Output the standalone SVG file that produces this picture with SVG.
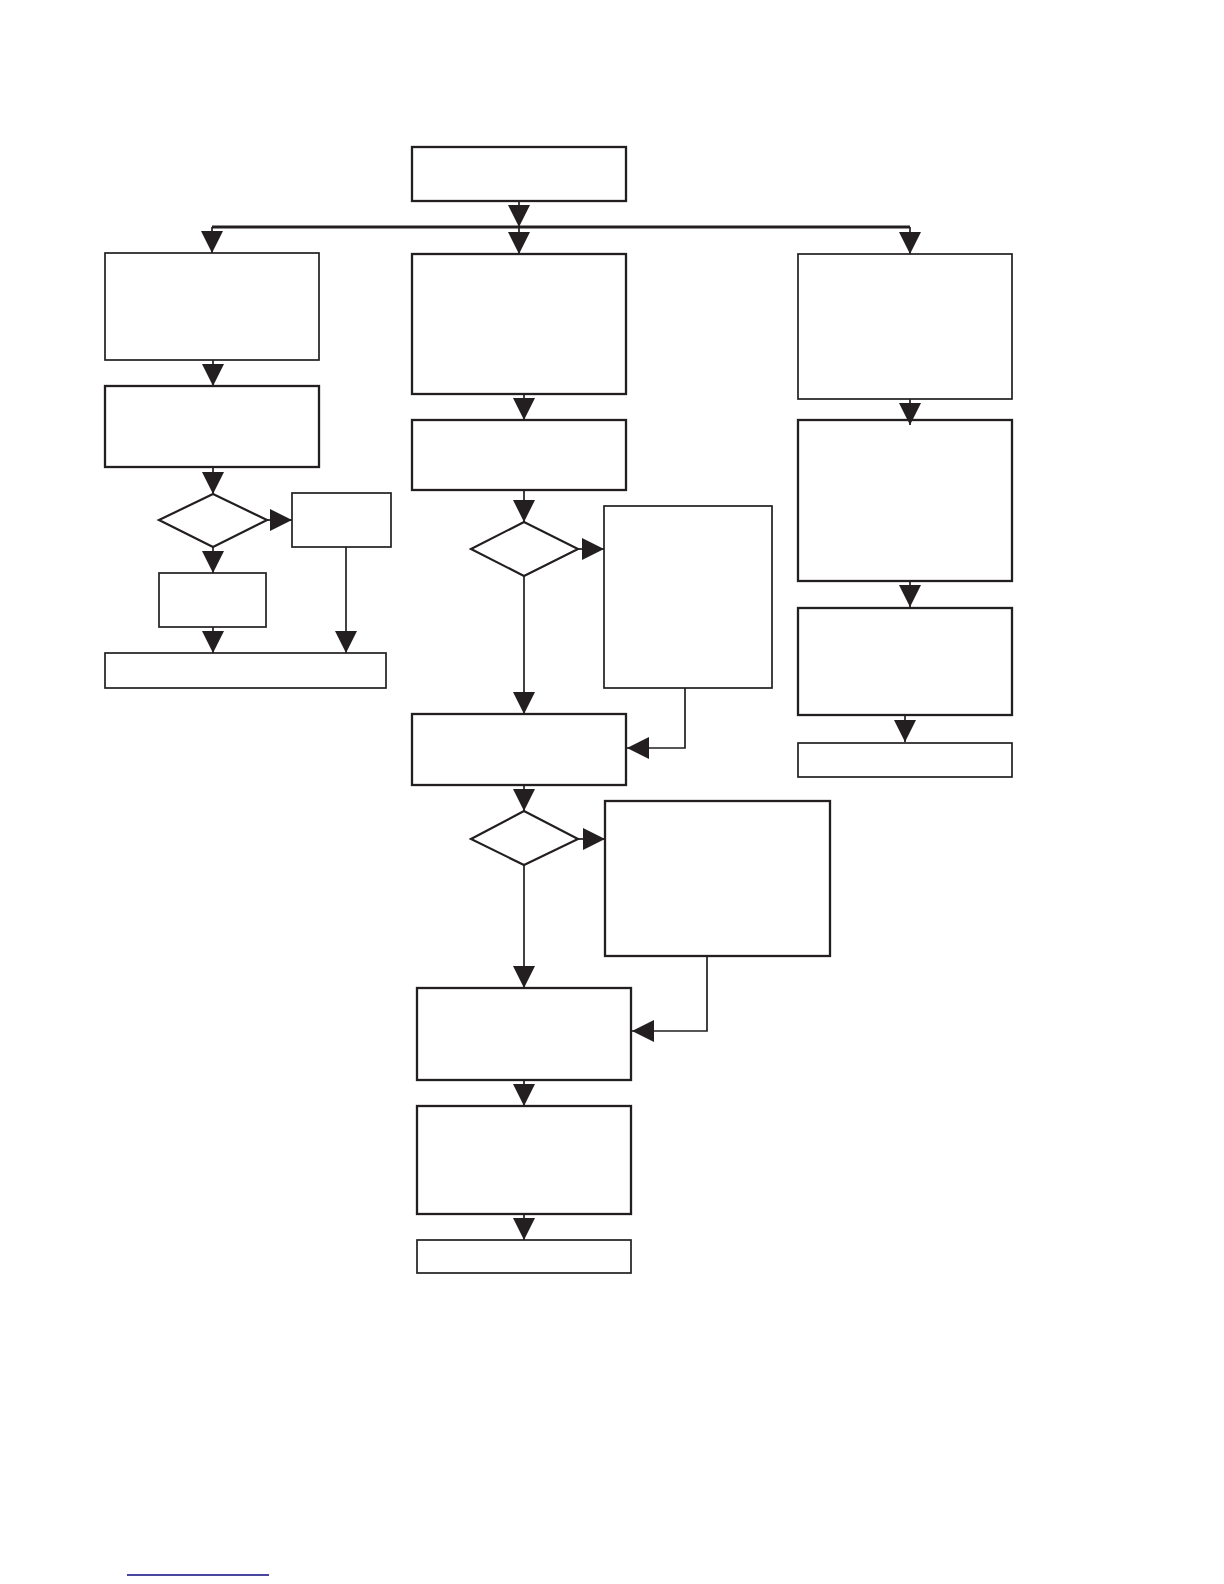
<svg xmlns="http://www.w3.org/2000/svg" width="1224" height="1584" viewBox="0 0 1224 1584">
<style>
.n{fill:#fff;stroke:#231f20;stroke-width:1.7}
.t{stroke-width:2.3}
.d{stroke-width:2.2}
.c{fill:none;stroke:#231f20;stroke-width:1.7}
</style>
<defs>
<marker id="a" markerUnits="userSpaceOnUse" markerWidth="22" markerHeight="22" viewBox="0 0 20 20" refX="20" refY="10" orient="auto">
<path d="M0,0 L20,10 L0,20 z" fill="#231f20"/>
</marker>
</defs>
<rect width="1224" height="1584" fill="#fff"/>
<g id="nodes">
<g id="n-top"><rect class="n t" x="412" y="147" width="214" height="54"/></g>
<g id="n-l1"><rect class="n" x="105" y="253" width="214" height="107"/></g>
<g id="n-l2"><rect class="n t" x="105" y="386" width="214" height="81"/></g>
<g id="n-ld"><polygon class="n d" points="213,494 267,520 213,547 159,520"/></g>
<g id="n-lr"><rect class="n" x="292" y="493" width="99" height="54"/></g>
<g id="n-l3"><rect class="n" x="159" y="573" width="107" height="54"/></g>
<g id="n-l4"><rect class="n" x="105" y="653" width="281" height="35"/></g>
<g id="n-m1"><rect class="n t" x="412" y="254" width="214" height="140"/></g>
<g id="n-m2"><rect class="n t" x="412" y="420" width="214" height="70"/></g>
<g id="n-md1"><polygon class="n d" points="524,522 578,549 524,576 471,549"/></g>
<g id="n-mr1"><rect class="n" x="604" y="506" width="168" height="182"/></g>
<g id="n-m3"><rect class="n t" x="412" y="714" width="214" height="71"/></g>
<g id="n-md2"><polygon class="n d" points="524,811 578,839 524,865 471,839"/></g>
<g id="n-mr2"><rect class="n t" x="605" y="801" width="225" height="155"/></g>
<g id="n-m4"><rect class="n t" x="417" y="988" width="214" height="92"/></g>
<g id="n-m5"><rect class="n t" x="417" y="1106" width="214" height="108"/></g>
<g id="n-m6"><rect class="n" x="417" y="1240" width="214" height="33"/></g>
<g id="n-r1"><rect class="n" x="798" y="254" width="214" height="145"/></g>
<g id="n-r2"><rect class="n t" x="798" y="420" width="214" height="161"/></g>
<g id="n-r3"><rect class="n t" x="798" y="608" width="214" height="107"/></g>
<g id="n-r4"><rect class="n" x="798" y="743" width="214" height="34"/></g>
</g>
<g id="connectors">
<line class="c" x1="519" y1="201" x2="519" y2="227" marker-end="url(#a)"/>
<line class="c" x1="212" y1="227" x2="910" y2="227" style="stroke-width:3.2"/>
<line class="c" x1="212" y1="227" x2="212" y2="253" marker-end="url(#a)"/>
<line class="c" x1="519" y1="227" x2="519" y2="254" marker-end="url(#a)"/>
<line class="c" x1="910" y1="227" x2="910" y2="254" marker-end="url(#a)"/>
<line class="c" x1="213" y1="360" x2="213" y2="386" marker-end="url(#a)"/>
<line class="c" x1="213" y1="467" x2="213" y2="494" marker-end="url(#a)"/>
<line class="c" x1="267" y1="520" x2="292" y2="520" marker-end="url(#a)"/>
<line class="c" x1="213" y1="547" x2="213" y2="573" marker-end="url(#a)"/>
<line class="c" x1="213" y1="627" x2="213" y2="653" marker-end="url(#a)"/>
<line class="c" x1="346" y1="547" x2="346" y2="653" marker-end="url(#a)"/>
<line class="c" x1="524" y1="394" x2="524" y2="420" marker-end="url(#a)"/>
<line class="c" x1="524" y1="490" x2="524" y2="522" marker-end="url(#a)"/>
<line class="c" x1="578" y1="549" x2="604" y2="549" marker-end="url(#a)"/>
<line class="c" x1="524" y1="576" x2="524" y2="714" marker-end="url(#a)"/>
<polyline class="c" points="685,688 685,748 627,748" marker-end="url(#a)"/>
<line class="c" x1="524" y1="785" x2="524" y2="811" marker-end="url(#a)"/>
<line class="c" x1="578" y1="839" x2="605" y2="839" marker-end="url(#a)"/>
<line class="c" x1="524" y1="865" x2="524" y2="988" marker-end="url(#a)"/>
<polyline class="c" points="707,956 707,1031 632,1031" marker-end="url(#a)"/>
<line class="c" x1="524" y1="1080" x2="524" y2="1106" marker-end="url(#a)"/>
<line class="c" x1="524" y1="1214" x2="524" y2="1240" marker-end="url(#a)"/>
<line class="c" x1="910" y1="399" x2="910" y2="425" marker-end="url(#a)"/>
<line class="c" x1="910" y1="581" x2="910" y2="607" marker-end="url(#a)"/>
<line class="c" x1="905" y1="715" x2="905" y2="742" marker-end="url(#a)"/>
</g>
<line x1="127" y1="1575" x2="269" y2="1575" stroke="#0a0a80" stroke-width="1.6"/>
</svg>
